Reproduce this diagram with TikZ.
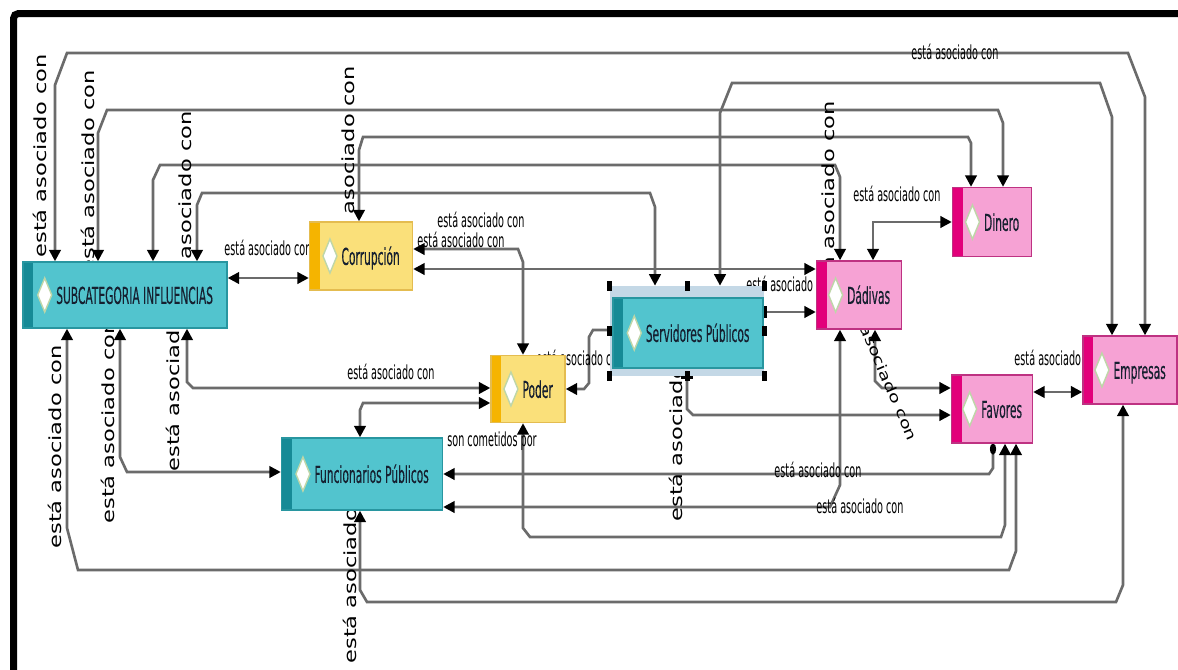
\documentclass[tikz,border=0pt]{standalone}
\usepackage{fontspec}
\newfontfamily\narrowsf[FakeStretch=0.5]{DejaVu Sans}
\newfontfamily\namesf[FakeStretch=0.46,FakeBold=0.25]{DejaVu Sans}
\newfontfamily\widesf[FakeStretch=1.35]{DejaVu Sans}
\usetikzlibrary{arrows.meta}
\pgfdeclarelayer{back}
\pgfsetlayers{back,main}

\definecolor{tealfill}{RGB}{82,196,206}
\definecolor{tealstrip}{RGB}{22,138,150}
\definecolor{tealline}{RGB}{40,150,160}
\definecolor{goldfill}{RGB}{250,224,122}
\definecolor{goldstrip}{RGB}{245,180,0}
\definecolor{goldline}{RGB}{228,188,80}
\definecolor{pinkfill}{RGB}{246,162,212}
\definecolor{pinkstrip}{RGB}{226,0,122}
\definecolor{pinkline}{RGB}{190,50,130}
\definecolor{gemline}{RGB}{190,214,168}
\definecolor{selfill}{RGB}{196,216,230}
\definecolor{inktext}{RGB}{22,32,48}

\newcommand\gem{\tikz[baseline=-0.7ex]\draw[fill=white,draw=gemline,line width=0.8pt] (0,3.4mm) -- (1.4mm,0) -- (0,-3.4mm) -- (-1.4mm,0) -- cycle;}

\tikzset{
  concept/.style={draw=#1line, fill=#1fill, line width=0.8pt, inner sep=0pt,
    minimum height=13.6mm, text=inktext, font=\namesf\fontsize{13.2}{14}\selectfont,
    path picture={\fill[#1strip] (path picture bounding box.north west) rectangle ([xshift=2mm]path picture bounding box.south west);}},
  link/.style={draw=black!58, line width=1.5pt, >={Triangle[width=6.5pt,length=6.5pt,color=black]}},
  rel/.style={font=\narrowsf\fontsize{11}{12}\selectfont, inner sep=0pt},
  relv/.style={font=\widesf\fontsize{9.5}{10}\selectfont, inner sep=0pt, rotate=#1},
  relv/.default=90
}

\begin{document}
\begin{tikzpicture}[x=0.2mm,y=-0.2mm]
  \useasboundingbox (0,0) rectangle (1178,669);

  % concepts
  \node[concept=teal,minimum width=40.8mm,minimum height=13.2mm] (sub) at (125,295) {\gem\,SUBCATEGORIA INFLUENCIAS};
  \node[concept=gold,minimum width=20.6mm] (cor) at (361,256) {\gem\,Corrupción};
  \node[concept=gold,minimum width=14.8mm,minimum height=13.4mm] (pod) at (528,389) {\gem\,Poder};
  \node[fill=selfill,minimum width=30.8mm,minimum height=18mm] (sel) at (687,331) {};
  \node[concept=teal,minimum width=30mm,minimum height=14mm] (ser) at (688,333) {\gem\,Servidores Públicos};
  \node[concept=pink,minimum width=17mm] (dad) at (859,295) {\gem\,Dádivas};
  \node[concept=pink,minimum width=15.8mm,minimum height=13.8mm] (din) at (992,222) {\gem\,Dinero};
  \node[concept=pink,minimum width=16.2mm] (fav) at (992,409) {\gem\,Favores};
  \node[concept=pink,minimum width=18.8mm] (emp) at (1130,370) {\gem\,Empresas};
  \node[concept=teal,minimum width=32.2mm,minimum height=14.4mm] (fun) at (362,474) {\gem\,Funcionarios Públicos};

  \begin{pgfonlayer}{back}
    \fill[white] (0,0) rectangle (1178,669);
    % links over the top
    \draw[link,<->] (55,0 |- sub.north) -- (55,85) -- (67,53) -- (1128,53) -- (1145,97) -- (1145,0 |- emp.north);
    \draw[link,<->] (720,0 |- sel.north) -- (720,113) -- (732,83) -- (1100,83) -- (1112,117) -- (1112,0 |- emp.north);
    \draw[link,<->] (98,0 |- sub.north) -- (98,133) -- (107,110) -- (998,110) -- (1003,123) -- (1003,0 |- din.north);
    \draw[link,<->] (359,0 |- cor.north) -- (359,150) -- (363,137) -- (968,137) -- (971,143) -- (971,0 |- din.north);
    \draw[link,<->] (153,0 |- sub.north) -- (153,180) -- (160,165) -- (835,165) -- (840,177) -- (840,0 |- dad.north);
    \draw[link,<->] (197,0 |- sub.north) -- (197,205) -- (202,193) -- (650,193) -- (655,207) -- (655,0 |- sel.north);
    \draw[link,<->] (873,0 |- dad.north) |- (din.west);

    % links in the middle
    \draw[link,<->] (sub.east |- 0,278) -- (cor.west |- 0,278);
    \draw[link,<->] (cor.east |- 0,269) -- (dad.west |- 0,269);
    \draw[link,<->] (cor.east |- 0,249) -- (518,249) -- (523,262) -- (523,0 |- pod.north);
    \draw[link,{Bar[width=7pt,color=black]}->] (sel.east |- 0,312) -- (dad.west |- 0,312);
    \draw[link,->] (sel.west |- 0,330) -- (593,330) -- (589,337) -- (589,383) -- (584,389) -- (pod.east |- 0,389);
    \draw[link,<->] (187,0 |- sub.south) -- (187,382) -- (193,388) -- (pod.west |- 0,388);
    \draw[link,<->] (pod.west |- 0,403) -- (363,403) -- (360,410) -- (360,0 |- fun.north);
    \draw[link,<->] (875,0 |- dad.south) -- (875,381) -- (882,388) -- (fav.west |- 0,388);
    \draw[link,{Bar[width=7pt,color=black]}->] (687,0 |- sel.south) -- (687,409) -- (693,415) -- (fav.west |- 0,415);
    \draw[link,<->] (fav.east |- 0,392) -- (emp.west |- 0,392);

    % links underneath
    \draw[link,<->] (120,0 |- sub.south) -- (120,457) -- (127,472) -- (fun.west |- 0,472);
    \draw[link,{Ellipse[length=6pt,width=3.5pt,color=black]}->] (993,0 |- fav.south) -- (993,468) -- (989,474) -- (fun.east |- 0,474);
    \draw[link,<->] (fun.east |- 0,507) -- (830,507) -- (840,485) -- (840,0 |- dad.south);
    \draw[link,<->] (523,0 |- pod.south) -- (523,528) -- (530,537) -- (1001,537) -- (1005,525) -- (1005,0 |- fav.south);
    \draw[link,<->] (67,0 |- sub.south) -- (67,528) -- (78,570) -- (1009,570) -- (1016,551) -- (1016,0 |- fav.south);
    \draw[link,<->] (360,0 |- fun.south) -- (360,590) -- (367,602) -- (1116,602) -- (1123,585) -- (1123,0 |- emp.south);

    % relation names
    \node[rel] (r1) at (955,52) {está asociado con};
    \node[rel] (r2) at (897,194) {está asociado con};
    \node[rel] (r3) at (268,248) {está asociado con};
    \node[rel] (r4) at (481,220) {está asociado con};
    \node[rel] (r5) at (461,240) {está asociado con};
    \node[rel] (r6) at (790,284) {está asociado con};
    \node[rel] (r7) at (391,372) {está asociado con};
    \node[rel] (r8) at (580,358) {está asociado con};
    \node[rel] (r9) at (492,441) {son cometidos por};
    \node[rel] (r10) at (818,470) {está asociado con};
    \node[rel] (r11) at (860,506) {está asociado con};
    \node[rel] (r12) at (1058,358) {está asociado con};
    \node[relv] (v1) at (40,156) {está asociado con};
    \node[relv] (v2) at (88,172) {está asociado con};
    \node[relv] (v3) at (185,213) {está asociado con};
    \node[relv] (v4) at (348,168) {está asociado con};
    \node[relv] (v5) at (828,203) {está asociado con};
    \node[relv] (v6) at (55,447) {está asociado con};
    \node[relv] (v7) at (108,422) {está asociado con};
    \node[relv] (v8) at (173,370) {está asociado con};
    \node[relv] (v9) at (676,420) {está asociado con};
    \node[relv] (v10) at (350,562) {está asociado con};
    \node[relv=-67,font=\widesf\fontsize{8}{9}\selectfont] (v11) at (880,361) {está asociado con};
  \end{pgfonlayer}

  % selection handles
  \foreach \a in {north west,north,north east,west,east,south west,south,south east}
    \fill (sel.\a) +(-0.5mm,-1mm) rectangle +(0.5mm,1mm);

  \draw[line width=1.4mm,rounded corners=1mm] (13.5,680) -- (13.5,13.5) -- (1190,13.5);
\end{tikzpicture}
\end{document}
